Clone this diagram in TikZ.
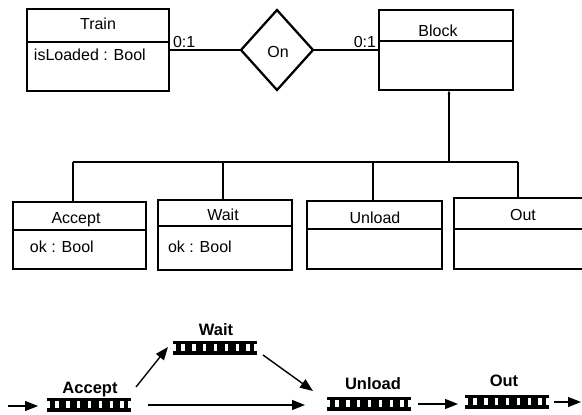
\documentclass[tikz,border=0pt]{standalone}
\usepackage{fontspec}
\setmainfont{Liberation Sans}
\usetikzlibrary{shapes.geometric,arrows.meta,calc}

\begin{document}
\begin{tikzpicture}[x=1pt,y=-1pt,
  every node/.style={font=\fontsize{16}{19}\selectfont, inner sep=0pt, outer sep=0pt},
  umlbox/.style={draw, rectangle, line width=2.5pt, anchor=north west},
  wire/.style={line width=2pt},
  divider/.style={line width=2pt},
  relation/.style={draw, diamond, line width=2.3pt, minimum width=72pt, minimum height=80pt},
  rail/.style={fill=black, rectangle, anchor=north west, minimum width=84pt, minimum height=14pt},
  lbl/.style={font=\bfseries\fontsize{16.5}{19}\selectfont, anchor=base},
  flow/.style={line width=1.4pt, -{Triangle[length=13pt,width=10pt]}},
]
\clip (0,0) rectangle (582,415);

% ---------- class diagram ----------
\node[umlbox, minimum width=142pt, minimum height=82pt] (train) at (27,9) {};
\draw[divider] (train.west |- 0,42) -- (train.east |- 0,42);
\node[anchor=base] (traint) at (98,30) {Train};
\node[anchor=base west] (traina) at (34,60) {isLoaded : Bool};

\node[relation] (on) at (277,50) {};
\node[anchor=base] (ont) at (278,57) {On};

\node[umlbox, minimum width=134pt, minimum height=80pt] (block) at (379,10) {};
\draw[divider] (block.west |- 0,41) -- (block.east |- 0,41);
\node[anchor=base] (blockt) at (438,36) {Block};

\draw[wire] (on.west) -- (on.west -| train.east);
\draw[wire] (on.east) -- (on.east -| block.west);
\node[anchor=base west] (m1) at (173,48) {0:1};
\node[anchor=base east] (m2) at (376,47) {0:1};

% subclasses
\node[umlbox, minimum width=133pt, minimum height=67pt] (acc) at (13,202) {};
\draw[divider] (acc.west |- 0,230) -- (acc.east |- 0,230);
\node[anchor=base] (acct) at (76,223) {Accept};
\node[anchor=base west] (acca) at (30,252) {ok : Bool};

\node[umlbox, minimum width=134pt, minimum height=70pt] (wait) at (158,200) {};
\draw[divider] (wait.west |- 0,226) -- (wait.east |- 0,226);
\node[anchor=base] (waitt) at (223,220) {Wait};
\node[anchor=base west] (waita) at (168,252) {ok : Bool};

\node[umlbox, minimum width=135pt, minimum height=68pt] (unl) at (307,201) {};
\draw[divider] (unl.west |- 0,229) -- (unl.east |- 0,229);
\node[anchor=base] (unlt) at (375,223) {Unload};

\node[umlbox, minimum width=136pt, minimum height=71pt] (out) at (454,198) {};
\draw[divider] (out.west |- 0,229) -- (out.east |- 0,229);
\node[anchor=base] (outt) at (523,220) {Out};

% inheritance tree
\coordinate (j) at (449,162);
\coordinate (ba) at (73,162);
\coordinate (bw) at (223,162);
\coordinate (bu) at (373,162);
\coordinate (bo) at (518,162);
\draw[wire, -{Latex[length=4pt,width=3pt]}] (j) -- (j |- block.south);
\draw[wire] (ba) -- (bo);
\draw[wire] (ba) -- (ba |- acc.north);
\draw[wire] (bw) -- (bw |- wait.north);
\draw[wire] (bu) -- (bu |- unl.north);
\draw[wire] (bo) -- (bo |- out.north);

% ---------- state flow ----------
\node[rail] (racc) at (47,398) {};
\node[rail] (rwait) at (173,341) {};
\node[rail] (runl) at (327,397) {};
\node[rail] (rout) at (465,395) {};
% rungs of each rail: notched ends and seven gaps
\foreach \r in {racc,rwait,runl,rout}{
  \fill[white] ($(\r.north west)+(0pt,-3pt)$) rectangle ++(2.6pt,-7pt);
  \fill[white] ($(\r.north east)+(0pt,-3pt)$) rectangle ++(-2.6pt,-7pt);
  \foreach \k in {0,...,6}
    \fill[white] ($(\r.north west)+(8pt+\k*10.9pt,-3pt)$) rectangle ++(3.6pt,-7pt);
}

\node[lbl] (lacc) at (90,393) {Accept};
\node[lbl] (lwait) at (216,335) {Wait};
\node[lbl] (lunl) at (373,389) {Unload};
\node[lbl] (lout) at (504,386) {Out};

\coordinate (in) at (8,406);
\coordinate (exit) at (581,402);
\draw[flow, shorten >=9pt] (in) -- (in -| racc.west);
\draw[flow] ([shift={(5pt,11pt)}]racc.north east) -- ([shift={(-5pt,8pt)}]rwait.south west);
\draw[flow, shorten <=17pt, shorten >=22pt] (racc.east) -- (racc.east -| runl.west);
\draw[flow] ([shift={(6pt,0pt)}]rwait.south east) -- ([shift={(-14pt,6pt)}]runl.north west);
\draw[flow, shorten <=7pt, shorten >=7pt] (runl.east) -- (runl.east -| rout.west);
\draw[flow, shorten <=5pt] (rout.east) -- (exit);
\end{tikzpicture}
\end{document}
